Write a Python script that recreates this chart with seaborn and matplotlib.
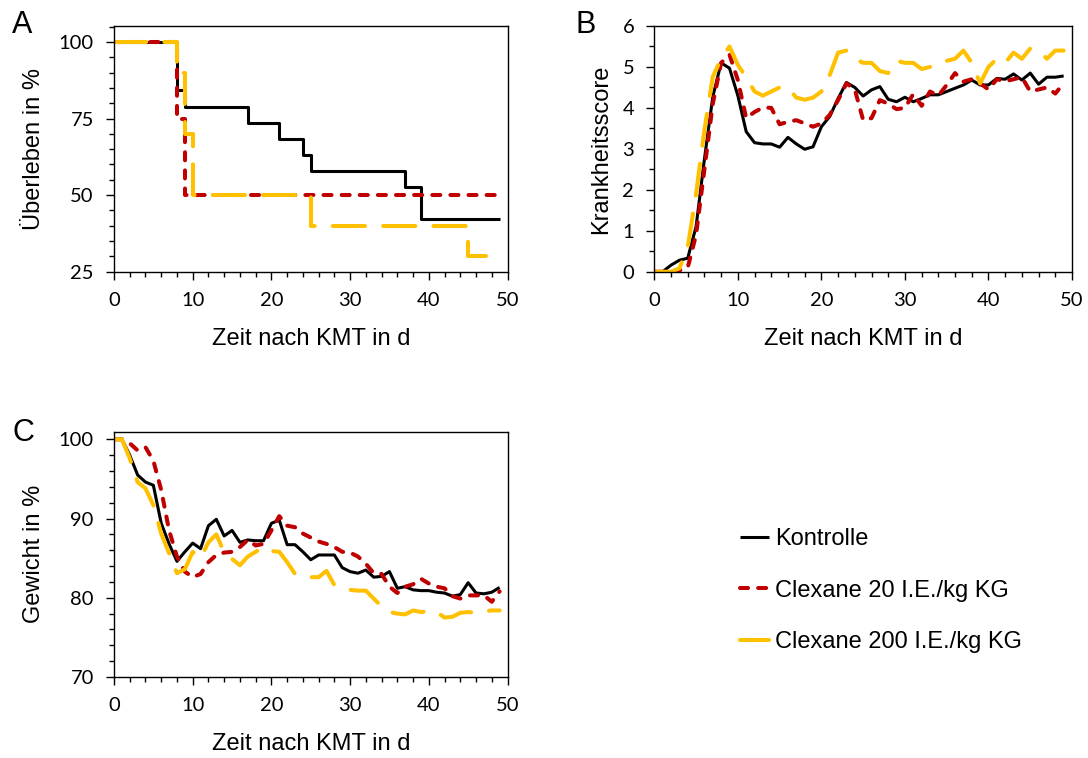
import numpy as np
import pandas as pd
import matplotlib
matplotlib.use("Agg")
import matplotlib.pyplot as plt
import seaborn as sns
from matplotlib.ticker import MultipleLocator

sns.set_theme(style="white")
plt.rcParams['font.family'] = ['Liberation Sans', 'DejaVu Sans']
plt.rcParams['text.color'] = 'black'
plt.rcParams['axes.labelcolor'] = 'black'
plt.rcParams['xtick.color'] = 'black'
plt.rcParams['ytick.color'] = 'black'

# ---------------- data ----------------
series_names = ["Kontrolle", "Clexane 20 I.E./kg KG", "Clexane 200 I.E./kg KG"]

# Panel A: survival (Kaplan-Meier steps)
surv_k_t = [0, 8, 9, 17, 21, 24, 25, 37, 39, 49]
surv_k_v = [100, 84.2, 78.9, 73.7, 68.4, 63.2, 57.9, 52.6, 42.1, 42.1]
surv_c20_t = [0, 8, 9, 49]
surv_c20_v = [100, 75, 50, 50]
surv_c200_t = [0, 8, 9, 10, 25, 45, 49]
surv_c200_v = [100, 90, 70, 50, 40, 30, 30]

days = list(range(50))

# Panel B: disease score
score_k = [0, 0, 0.16, 0.28, 0.33, 1.1, 2.75, 4.27, 5.1, 4.97,
           4.3, 3.42, 3.15, 3.12, 3.12, 3.04, 3.28, 3.12, 2.99, 3.05,
           3.54, 3.79, 4.23, 4.62, 4.5, 4.29, 4.44, 4.52, 4.21, 4.15,
           4.26, 4.15, 4.23, 4.32, 4.32, 4.4, 4.48, 4.56, 4.68, 4.56,
           4.56, 4.72, 4.7, 4.83, 4.68, 4.85, 4.58, 4.75, 4.75, 4.78]
score_c20 = [0, 0, 0, 0.03, 0.1, 0.9, 2.5, 4.1, 5.1, 5.3,
             4.68, 3.75, 3.9, 4.01, 4.0, 3.6, 3.66, 3.7, 3.62, 3.54,
             3.62, 3.83, 4.19, 4.6, 4.45, 3.7, 3.75, 4.19, 4.1, 3.97,
             4.0, 4.34, 4.05, 4.4, 4.3, 4.56, 4.85, 4.64, 4.7, 4.6,
             4.45, 4.7, 4.65, 4.7, 4.75, 4.4, 4.45, 4.5, 4.35, 4.6]
score_c200 = [0, 0, 0, 0.08, 0.6, 1.9, 3.46, 4.76, 5.2, 5.5,
              5.05, 4.75, 4.4, 4.3, 4.4, 4.5, 4.5, 4.25, 4.2, 4.25,
              4.4, 4.8, 5.35, 5.4, 5.2, 5.1, 5.1, 4.9, 4.85, 5.15,
              5.1, 5.1, 4.95, 5.0, 5.05, 5.15, 5.2, 5.4, 5.1, 4.6,
              5.0, 5.2, 5.1, 5.35, 5.2, 5.45, 5.4, 5.2, 5.4, 5.4]

# Panel C: body weight
weight_k = [100, 100, 98.0, 95.5, 94.6, 94.2, 89.4, 86.8, 84.6, 85.8,
            86.9, 86.2, 89.1, 89.9, 87.8, 88.5, 87.0, 87.3, 87.2, 87.2,
            89.4, 89.8, 86.7, 86.7, 85.8, 84.8, 85.4, 85.4, 85.4, 83.8,
            83.3, 83.1, 83.5, 82.6, 82.7, 83.3, 81.2, 81.4, 81.0, 80.9,
            80.9, 80.7, 80.6, 80.2, 80.4, 81.9, 80.6, 80.5, 80.7, 81.3]
weight_c20 = [100, 100, 99.5, 98.6, 99.0, 97.3, 93.6, 88.5, 85.2, 83.3,
              82.6, 83.0, 84.5, 85.4, 85.7, 85.8, 86.4, 87.3, 86.6, 86.8,
              88.5, 90.3, 89.1, 88.9, 88.1, 87.6, 87.1, 86.8, 86.4, 85.8,
              85.7, 85.2, 84.3, 83.1, 83.0, 81.4, 80.6, 81.4, 81.7, 82.4,
              81.8, 81.4, 81.2, 80.2, 79.9, 80.3, 80.3, 80.3, 79.5, 80.8]
weight_c200 = [100, 100, 97.6, 94.6, 93.8, 91.7, 88.1, 85.6, 83.1, 83.6,
               85.8, 85.0, 87.0, 88.0, 85.7, 84.9, 84.1, 85.2, 85.8, 86.4,
               85.9, 85.8, 84.5, 83.0, 82.7, 82.6, 82.6, 83.4, 81.6, 81.2,
               81.0, 80.9, 80.9, 79.9, 78.9, 78.2, 78.0, 77.9, 78.4, 78.2,
               78.3, 78.2, 77.5, 77.6, 78.1, 78.2, 78.1, 78.3, 78.4, 78.4]

# ---------------- styles ----------------
colors = ["#000000", "#C00000", "#FFC000"]
widths = [2.2, 2.9, 2.9]
styles = ["-", (0, (2.0, 2.5)), (0, (8.0, 4.5))]
caps = ["butt", "round", "round"]

W, H = 1088, 758
fig = plt.figure(figsize=(W / 100, H / 100), dpi=100)
fig.patch.set_facecolor("white")

def px_axes(left, top, right, bottom):
    return fig.add_axes([left / W, 1 - bottom / H, (right - left) / W, (bottom - top) / H])

axA = px_axes(114, 26, 507.5, 271.7)
axB = px_axes(654.3, 26, 1072, 271.7)
axC = px_axes(114, 431.7, 507.5, 677)

tick_font = "Lato"

def style_axis(ax):
    ax.set_facecolor("white")
    for s in ax.spines.values():
        s.set_visible(True)
        s.set_color("black")
        s.set_linewidth(1.0)
    ax.xaxis.set_major_locator(MultipleLocator(10))
    ax.xaxis.set_minor_locator(MultipleLocator(2))
    ax.set_xlim(0, 50)
    ax.tick_params(which="both", direction="out", color="black", width=1.0,
                   bottom=True, left=True, top=False, right=False)
    ax.tick_params(which="major", length=5.5, labelsize=14.5, pad=9,
                   labelcolor="black", labelfontfamily=tick_font)
    ax.tick_params(which="minor", length=3.5)
    ax.grid(False)

def draw(ax, xs_list, ys_list, step=False):
    for i in range(3):
        kw = dict(drawstyle="steps-post") if step else {}
        sns.lineplot(x=xs_list[i], y=ys_list[i], ax=ax, color=colors[i],
                     linewidth=widths[i], linestyle=styles[i],
                     dash_capstyle=caps[i], solid_capstyle="butt",
                     label=series_names[i], legend=False, **kw)

# Panel A
draw(axA, [surv_k_t, surv_c20_t, surv_c200_t],
     [surv_k_v, surv_c20_v, surv_c200_v], step=True)
style_axis(axA)
axA.set_ylim(25, 105.2)
axA.set_yticks([25, 50, 75, 100])
axA.yaxis.set_minor_locator(MultipleLocator(5))
axA.set_ylabel("Überleben in %", fontsize=17, color="black")
axA.set_xlabel("Zeit nach KMT in d", fontsize=17, color="black")

# Panel B
draw(axB, [days] * 3, [score_k, score_c20, score_c200])
style_axis(axB)
axB.set_ylim(0, 6)
axB.yaxis.set_major_locator(MultipleLocator(1))
axB.yaxis.set_minor_locator(MultipleLocator(0.5))
axB.set_ylabel("Krankheitsscore", fontsize=17, color="black")
axB.set_xlabel("Zeit nach KMT in d", fontsize=17, color="black")

# Panel C
draw(axC, [days] * 3, [weight_k, weight_c20, weight_c200])
style_axis(axC)
axC.set_ylim(70, 100.96)
axC.set_yticks([70, 80, 90, 100])
axC.yaxis.set_minor_locator(MultipleLocator(2))
axC.set_ylabel("Gewicht in %", fontsize=17, color="black")
axC.set_xlabel("Zeit nach KMT in d", fontsize=17, color="black")

# label positions
for ax, xl in [(axA, -0.175), (axB, -0.1005), (axC, -0.175)]:
    ax.yaxis.set_label_coords(xl, 0.5)
for ax in (axA, axB, axC):
    ax.xaxis.set_label_coords(0.5, -0.228)

# panel letters
fig.text(12 / W, 1 - 25 / H, "A", fontsize=22, va="center", ha="left", color="black")
fig.text(576 / W, 1 - 25 / H, "B", fontsize=22, va="center", ha="left", color="black")
fig.text(12 / W, 1 - 433 / H, "C", fontsize=22, va="center", ha="left", color="black")

# legend
handles = axC.get_lines()[:3]
leg = fig.legend(handles, series_names, loc="upper left",
                 bbox_to_anchor=(740 / W, 1 - 528 / H), frameon=False,
                 fontsize=17, handlelength=1.23, handletextpad=0.25,
                 labelspacing=1.25, borderpad=0, borderaxespad=0,
                 labelcolor="black")

fig.savefig("out.png", dpi=100, facecolor="white")
